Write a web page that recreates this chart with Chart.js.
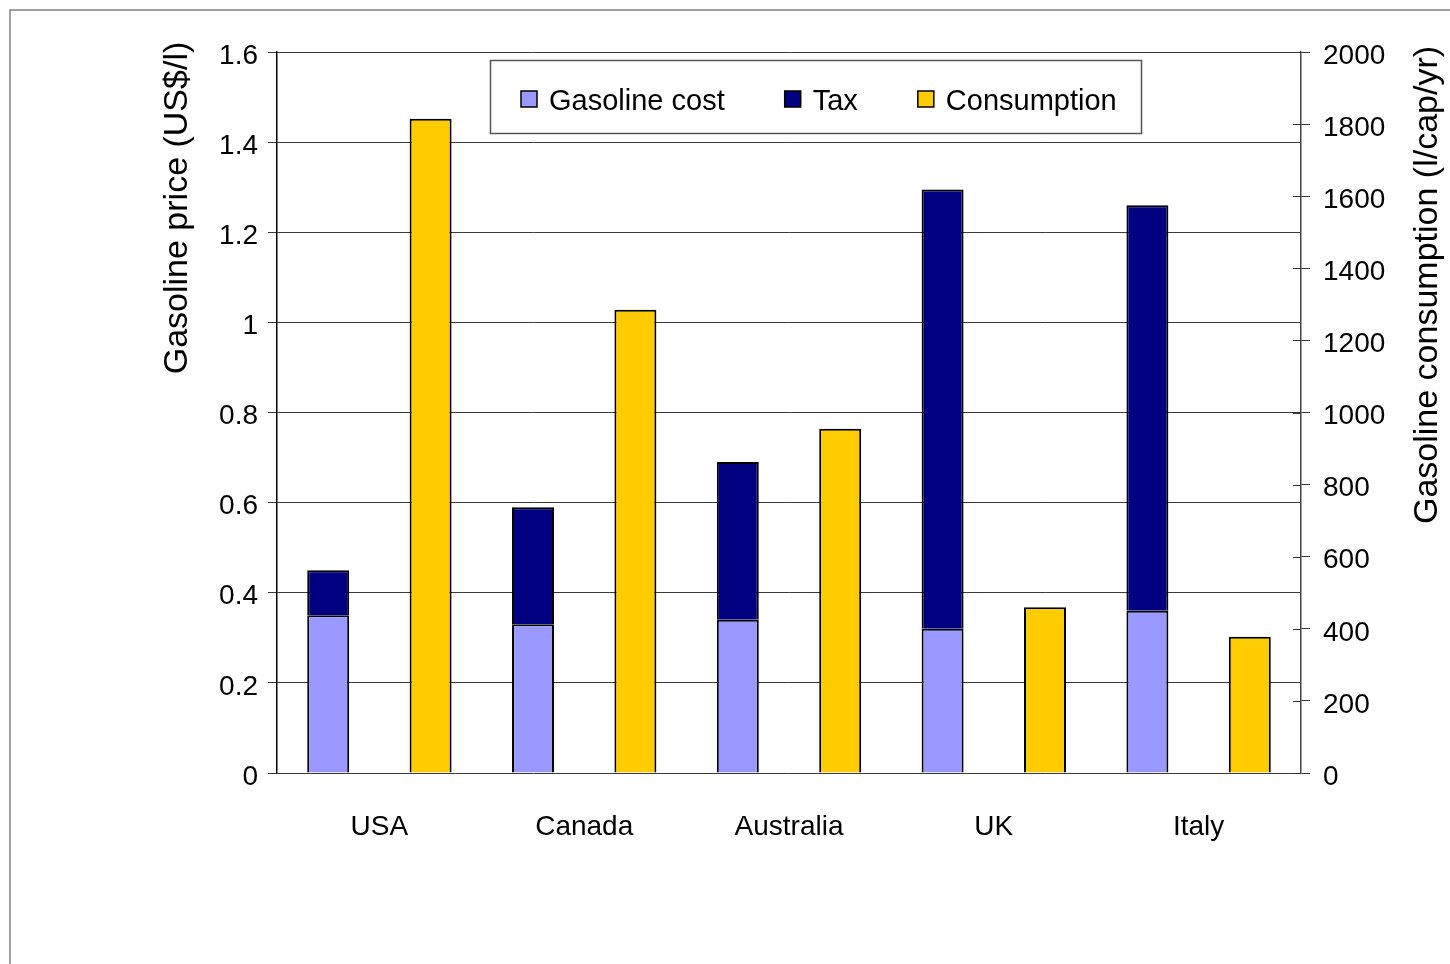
<!DOCTYPE html>
<html>
<head>
<meta charset="utf-8">
<script src="https://cdn.jsdelivr.net/npm/chart.js@4.4.0/dist/chart.umd.min.js"></script>
<style>
    html, body { margin: 0; padding: 0; background: #fff; overflow: hidden; }
    #wrap { position: relative; width: 1450px; height: 964px; }
</style>
</head>
<body>
<div id="wrap"><canvas id="myChart"></canvas></div>
<script>
const countries = ['USA', 'Canada', 'Australia', 'UK', 'Italy'];
const gasolineCost = [0.35, 0.33, 0.34, 0.32, 0.36];
const tax = [0.10, 0.26, 0.35, 0.975, 0.90];
const consumption = [1815, 1285, 955, 460, 378];

const priceTicks = ['0', '0.2', '0.4', '0.6', '0.8', '1', '1.2', '1.4', '1.6'];
const consumptionTicks = ['0', '200', '400', '600', '800', '1000', '1200', '1400', '1600', '1800', '2000'];

const FONT = "'Liberation Sans', Arial, sans-serif";
Chart.defaults.font.family = FONT;
Chart.defaults.color = '#000';

const ctx = document.getElementById('myChart');

// outer frame of the chart (only top and left edges fall inside the picture)
const framePlugin = {
    id: 'frame',
    beforeDraw(chart) {
        const c = chart.ctx;
        c.save();
        c.fillStyle = '#fff';
        c.fillRect(0, 0, chart.width, chart.height);
        c.strokeStyle = '#808080';
        c.lineWidth = 1.5;
        c.beginPath();
        c.moveTo(10, chart.height);
        c.lineTo(10, 10);
        c.lineTo(chart.width, 10);
        c.stroke();
        c.restore();
    }
};

// right axis tick marks also poke into the plot
const innerTicks = {
    id: 'innerTicks',
    afterDraw(chart) {
        const s = chart.scales.y1;
        const c = chart.ctx;
        c.save();
        c.strokeStyle = '#333';
        c.lineWidth = 1;
        s.ticks.forEach(t => {
            const y = Math.round(s.getPixelForValue(t.value)) + 0.5;
            c.beginPath();
            c.moveTo(chart.chartArea.right - 8, y);
            c.lineTo(chart.chartArea.right, y);
            c.stroke();
        });
        c.restore();
    }
};

const axisTitles = {
    id: 'axisTitles',
    afterDraw(chart) {
        const c = chart.ctx;
        c.save();
        c.font = '34px ' + FONT;
        c.fillStyle = '#000';
        c.textAlign = 'center';
        c.textBaseline = 'middle';

        c.save();
        c.translate(178, 208);
        c.rotate(-Math.PI / 2);
        c.fillText('Gasoline price (US$/l)', 0, 0);
        c.restore();

        c.save();
        c.translate(1428, 285);
        c.rotate(-Math.PI / 2);
        c.fillText('Gasoline consumption (l/cap/yr)', 0, 0);
        c.restore();

        c.restore();
    }
};

// legend box sits inside the plot area
const legendBox = {
    id: 'legendBox',
    afterDraw(chart) {
        const c = chart.ctx;
        c.save();
        c.fillStyle = '#fff';
        c.fillRect(490, 60, 651, 73);
        c.strokeStyle = '#555';
        c.lineWidth = 1.5;
        c.strokeRect(490.5, 60.5, 651, 73);

        c.font = '29px ' + FONT;
        c.textBaseline = 'middle';
        c.textAlign = 'left';
        let x = 521;
        const y = 99;
        chart.data.datasets.forEach(ds => {
            c.fillStyle = ds.backgroundColor;
            c.fillRect(x, y - 8, 16, 16);
            c.strokeStyle = '#000';
            c.lineWidth = 1.5;
            c.strokeRect(x, y - 8, 16, 16);
            c.fillStyle = '#000';
            c.fillText(ds.label, x + 28, y + 3);
            x += 28 + c.measureText(ds.label).width + 60;
        });
        c.restore();
    }
};

const myChart = new Chart(ctx, {
    type: 'bar',
    data: {
        labels: countries,
        datasets: [
            {
                label: 'Gasoline cost',
                data: gasolineCost,
                backgroundColor: '#9999FF',
                borderColor: '#000',
                borderWidth: 2,
                stack: 'price',
                yAxisID: 'y',
            },
            {
                label: 'Tax',
                data: tax,
                backgroundColor: '#000080',
                borderColor: '#000',
                borderWidth: 2,
                stack: 'price',
                yAxisID: 'y',
            },
            {
                label: 'Consumption',
                data: consumption,
                backgroundColor: '#FFCC00',
                borderColor: '#000',
                borderWidth: 2,
                stack: 'cons',
                yAxisID: 'y1',
            }
        ]
    },
    options: {
        responsive: true,
        maintainAspectRatio: false,
        animation: false,
        categoryPercentage: 1,
        barPercentage: 0.41,
        layout: { padding: { top: 52, left: 0, right: 0, bottom: 0 } },
        plugins: {
            legend: { display: false },
            tooltip: { enabled: false }
        },
        scales: {
            x: {
                grid: { display: false, drawTicks: false },
                border: { display: false },
                ticks: { font: { size: 28 }, padding: 37, maxRotation: 0 },
                afterFit(scale) { scale.height = 191; }
            },
            y: {
                position: 'left',
                stacked: true,
                min: 0,
                max: 1.6,
                ticks: {
                    stepSize: 0.2,
                    font: { size: 28 },
                    padding: 10,
                    labelOffset: 4,
                    callback: (value, i) => priceTicks[i]
                },
                grid: { color: '#3a3a3a', lineWidth: 1, tickLength: 9 },
                border: { color: '#000', width: 1.5 },
                afterFit(scale) { scale.width = 277; }
            },
            y1: {
                position: 'right',
                stacked: true,
                min: 0,
                max: 2000,
                ticks: {
                    stepSize: 200,
                    font: { size: 28 },
                    padding: 13,
                    labelOffset: 4,
                    callback: (value, i) => consumptionTicks[i]
                },
                grid: { drawOnChartArea: false, color: '#333', tickLength: 9 },
                border: { color: '#444', width: 1.5 },
                afterFit(scale) { scale.width = 149; }
            }
        }
    },
    plugins: [framePlugin, innerTicks, axisTitles, legendBox]
});
</script>
</body>
</html>
